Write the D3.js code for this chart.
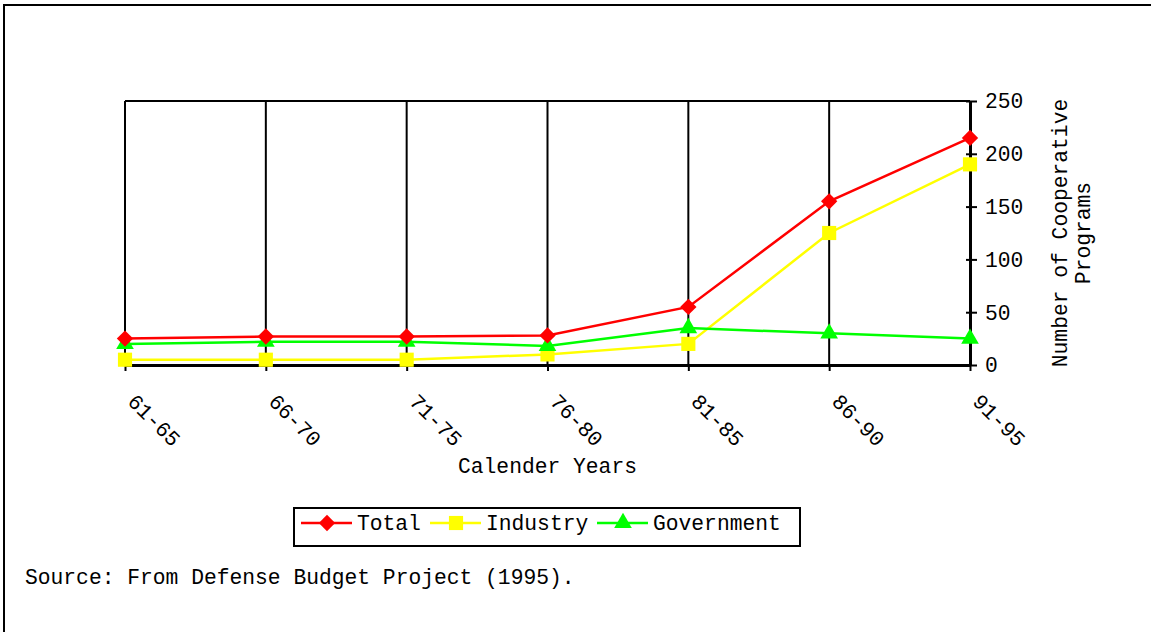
<!DOCTYPE html>
<html>
<head>
<meta charset="utf-8">
<script src="https://cdn.jsdelivr.net/npm/d3@7"></script>
<style>
  body { margin: 0; background: #fff; }
  svg text { font-family: "Liberation Mono", "Courier New", monospace; font-size: 21.3px; fill: #000; }
</style>
</head>
<body>
<svg id="chart" width="1151" height="632"></svg>
<script>
// data
var periods = ["61-65", "66-70", "71-75", "76-80", "81-85", "86-90", "91-95"];
var industry = [5, 5, 5, 10, 20, 125, 190];
var government = [20, 22, 22, 18, 35, 30, 25];
var total = [25, 27, 27, 28, 55, 155, 215];
var yTicks = [0, 50, 100, 150, 200, 250];

var seriesNames = ["Total", "Industry", "Government"];
var seriesColors = ["#ff0000", "#ffff00", "#00ff00"];
var seriesShapes = [d3.symbolDiamond2, d3.symbolSquare, d3.symbolTriangle];
var seriesValues = [total, industry, government];

var series = seriesNames.map(function(name, i) {
  return {name: name, color: seriesColors[i], shape: seriesShapes[i], values: seriesValues[i]};
});

function markerSize(shape) {
  if (shape === d3.symbolTriangle) return 135;
  if (shape === d3.symbolSquare) return 200;
  return 170;
}

var margin = {top: 101, right: 181, bottom: 267, left: 125};
var width = 1151 - margin.left - margin.right;
var height = 632 - margin.top - margin.bottom;

var svg = d3.select("#chart");

// outer frame (only top and left edges visible)
svg.append("rect")
    .attr("x", 4).attr("y", 5)
    .attr("width", 1160).attr("height", 640)
    .attr("fill", "none")
    .attr("stroke", "#000")
    .attr("stroke-width", 2);

var g = svg.append("g")
    .attr("transform", "translate(" + margin.left + "," + margin.top + ")");

var x = d3.scalePoint().domain(periods).range([0, width]);
var y = d3.scaleLinear().domain([0, 250]).range([height, 0]);

// vertical grid lines at each category
g.append("g")
  .selectAll("line")
  .data(periods)
  .enter().append("line")
    .attr("x1", function(d) { return x(d); })
    .attr("x2", function(d) { return x(d); })
    .attr("y1", 0)
    .attr("y2", height)
    .attr("stroke", "#000")
    .attr("stroke-width", 2);

// top border
g.append("line")
    .attr("x1", 0).attr("x2", width)
    .attr("y1", 0).attr("y2", 0)
    .attr("stroke", "#000").attr("stroke-width", 2);

// x axis
var xAxis = g.append("g")
    .attr("transform", "translate(0," + height + ")")
    .call(d3.axisBottom(x).tickSize(6).tickSizeOuter(0).tickFormat(""));
xAxis.select(".domain").attr("stroke-width", 3);
xAxis.selectAll(".tick line").attr("stroke-width", 2);

xAxis.selectAll(".tick")
  .append("text")
    .attr("transform", "translate(0,26) rotate(45)")
    .attr("x", 9)
    .attr("dy", "0.35em")
    .attr("text-anchor", "start")
    .attr("fill", "#000")
    .text(function(d) { return d; });

// right y axis
var yAxis = g.append("g")
    .attr("transform", "translate(" + width + ",0)")
    .call(d3.axisRight(y).tickValues(yTicks).tickSize(7).tickSizeOuter(0).tickPadding(8));
yAxis.select(".domain").attr("stroke-width", 3);
yAxis.selectAll(".tick line").attr("x1", -4).attr("stroke-width", 2);
yAxis.selectAll(".tick text")
    .style("font-family", "Liberation Mono, Courier New, monospace")
    .style("font-size", "21.3px")
    .attr("fill", "#000");

// axis titles
g.append("text")
    .attr("x", width / 2)
    .attr("y", height + 108)
    .attr("text-anchor", "middle")
    .text("Calender Years");

var yTitle = g.append("text")
    .attr("transform", "translate(" + (width + 97) + "," + (height / 2) + ") rotate(-90)")
    .attr("text-anchor", "middle");
yTitle.append("tspan").attr("x", 0).attr("dy", 0).text("Number of Cooperative");
yTitle.append("tspan").attr("x", 0).attr("dy", 23).text("Programs");

// lines and markers
var line = d3.line()
    .x(function(d, i) { return x(periods[i]); })
    .y(function(d) { return y(d); });

var drawOrder = [series[1], series[2], series[0]];
drawOrder.forEach(function(s) {
  g.append("path")
      .datum(s.values)
      .attr("d", line)
      .attr("fill", "none")
      .attr("stroke", s.color)
      .attr("stroke-width", 2.5);
});
drawOrder.forEach(function(s) {
  g.append("g")
    .selectAll("path")
    .data(s.values)
    .enter().append("path")
      .attr("transform", function(d, i) { return "translate(" + x(periods[i]) + "," + y(d) + ")"; })
      .attr("d", d3.symbol().type(s.shape).size(markerSize(s.shape)))
      .attr("fill", s.color);
});

// legend
var legend = svg.append("g").attr("transform", "translate(294,508)");
legend.append("rect")
    .attr("width", 506).attr("height", 38)
    .attr("fill", "#fff")
    .attr("stroke", "#000")
    .attr("stroke-width", 2);

var legendX = [7, 136, 303];
var item = legend.selectAll(".item")
  .data(series)
  .enter().append("g")
    .attr("class", "item")
    .attr("transform", function(d, i) { return "translate(" + legendX[i] + ",15)"; });
item.append("line")
    .attr("x1", 0).attr("x2", 51)
    .attr("stroke", function(d) { return d.color; })
    .attr("stroke-width", 2.5);
item.append("path")
    .attr("transform", "translate(26,0)")
    .attr("d", function(d) { return d3.symbol().type(d.shape).size(markerSize(d.shape))(); })
    .attr("fill", function(d) { return d.color; });
item.append("text")
    .attr("x", 56)
    .attr("y", 7)
    .text(function(d) { return d.name; });

// source note
svg.append("text")
    .attr("x", 25)
    .attr("y", 584)
    .text("Source: From Defense Budget Project (1995).");
</script>
</body>
</html>
